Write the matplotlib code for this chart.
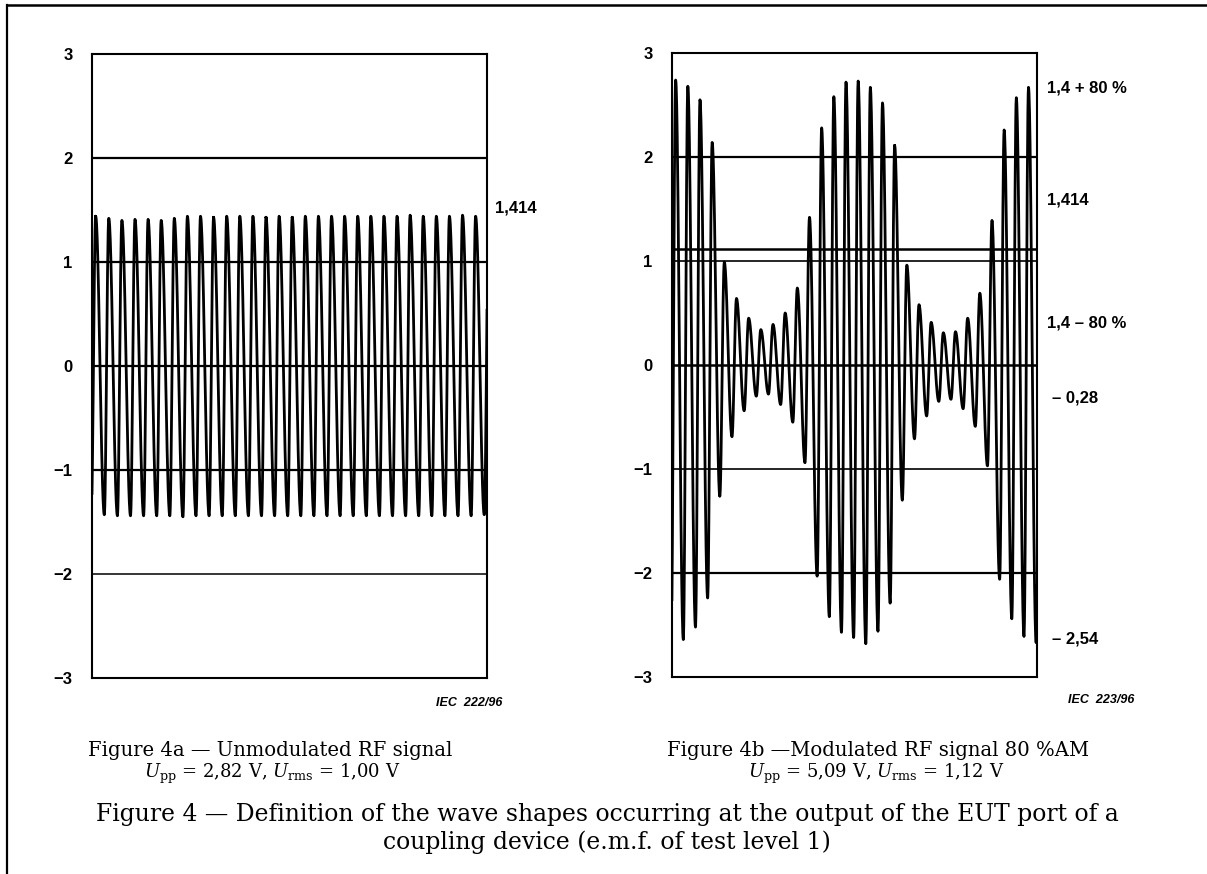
import numpy as np
import matplotlib
matplotlib.use("Agg")
import matplotlib.pyplot as plt
from matplotlib.lines import Line2D

plt.rcParams['mathtext.fontset'] = 'custom'
plt.rcParams['mathtext.rm'] = 'DejaVu Serif'
plt.rcParams['mathtext.it'] = 'DejaVu Serif:italic'

# peak / trough voltage of every carrier cycle
peaks_a = [1.44, 1.42, 1.40, 1.41, 1.41, 1.40, 1.42, 1.44, 1.44, 1.43,
           1.44, 1.44, 1.44, 1.43, 1.44, 1.43, 1.44, 1.44, 1.44, 1.44,
           1.44, 1.44, 1.44, 1.44, 1.45, 1.44, 1.44, 1.44, 1.45, 1.44]
troughs_a = [-1.43, -1.44, -1.44, -1.44, -1.44, -1.44, -1.45, -1.44, -1.44, -1.44,
             -1.44, -1.44, -1.44, -1.44, -1.44, -1.44, -1.44, -1.44, -1.44, -1.44,
             -1.44, -1.44, -1.44, -1.44, -1.44, -1.44, -1.44, -1.44, -1.44, -1.43]

peaks_b = [2.74, 2.68, 2.55, 2.14, 0.99, 0.64, 0.45, 0.34, 0.39, 0.50,
           0.74, 1.42, 2.28, 2.58, 2.72, 2.73, 2.67, 2.52, 2.11, 0.96,
           0.58, 0.41, 0.31, 0.32, 0.45, 0.69, 1.39, 2.26, 2.57, 2.67]
troughs_b = [-2.64, -2.52, -2.24, -1.26, -0.69, -0.44, -0.30, -0.28, -0.38, -0.55,
             -0.94, -2.03, -2.42, -2.57, -2.62, -2.68, -2.56, -2.29, -1.30, -0.71,
             -0.49, -0.35, -0.33, -0.42, -0.59, -0.97, -2.06, -2.44, -2.61, -2.67]

yticks = [-3, -2, -1, 0, 1, 2, 3]
ytick_labels = ['\u22123', '\u22122', '\u22121', '0', '1', '2', '3']


def wave(peaks, troughs, x0, skew, n=30):
    ex = [x0 + skew - 1]
    ey = [troughs[0]]
    for k in range(len(peaks)):
        ex += [x0 + k, x0 + k + skew]
        ey += [peaks[k], troughs[k]]
    ex.append(x0 + len(peaks))
    ey.append(peaks[-1])
    xs, ys = [], []
    t = np.linspace(0, 1, n)
    for i in range(len(ex) - 1):
        xs.append(ex[i] + (ex[i + 1] - ex[i]) * t)
        ys.append(ey[i] + (ey[i + 1] - ey[i]) * (1 - np.cos(np.pi * t)) / 2)
    return np.concatenate(xs), np.concatenate(ys)


W, H = 1207, 874
fig = plt.figure(figsize=(W / 100, H / 100), dpi=100)

# page frame (top and left edges only)
fig.add_artist(Line2D([7 / W, 7 / W], [0, 1 - 5 / H], color='black', lw=1.6))
fig.add_artist(Line2D([7 / W, 1], [1 - 5 / H, 1 - 5 / H], color='black', lw=1.8))


def setup(ax):
    ax.set_ylim(-3, 3)
    ax.set_yticks(yticks)
    ax.set_yticklabels(ytick_labels, fontfamily='Liberation Sans',
                       fontweight='bold', fontsize=12)
    ax.set_xticks([])
    ax.tick_params(axis='y', length=0, pad=14)
    for s in ax.spines.values():
        s.set_linewidth(1.5)


# Figure 4a
ax1 = fig.add_axes([92 / W, 1 - 678 / H, 395 / W, 624 / H])
setup(ax1)
ax1.set_xlim(0, 30.15)
for yv, lw in [(2, 1.6), (1, 1.6), (0, 1.6), (-1, 1.6), (-2, 1.1)]:
    ax1.axhline(yv, color='black', lw=lw)
xa, ya = wave(peaks_a, troughs_a, 0.28, 0.66)
ax1.plot(xa, ya, color='black', lw=2.0, solid_joinstyle='round')
ax1.text(1.02, 1.52, '1,414', transform=ax1.get_yaxis_transform(),
         fontfamily='Liberation Sans', fontweight='bold', fontsize=12,
         ha='left', va='center')
ax1.text(1.038, -3.24, 'IEC  222/96', transform=ax1.get_yaxis_transform(),
         fontfamily='Liberation Sans', fontweight='bold', style='italic',
         fontsize=9, ha='right', va='center')

# Figure 4b
ax2 = fig.add_axes([672 / W, 1 - 677 / H, 365 / W, 624 / H])
setup(ax2)
ax2.set_xlim(0, 30.0)
for yv, lw in [(2, 1.6), (1.12, 1.8), (1, 1.2), (0, 1.8), (-1, 1.2), (-2, 1.6)]:
    ax2.axhline(yv, color='black', lw=lw)
xb, yb = wave(peaks_b, troughs_b, 0.3, 0.63)
ax2.plot(xb, yb, color='black', lw=2.0, solid_joinstyle='round')
side_labels = [(2.66, '1,4 + 80 %', 1.027), (1.59, '1,414', 1.027),
               (0.40, '1,4 \u2013 80 %', 1.027), (-0.32, '\u2013 0,28', 1.04),
               (-2.63, '\u2013 2,54', 1.04)]
for yv, txt, xf in side_labels:
    ax2.text(xf, yv, txt, transform=ax2.get_yaxis_transform(),
             fontfamily='Liberation Sans', fontweight='bold', fontsize=12,
             ha='left', va='center')
ax2.text(1.268, -3.22, 'IEC  223/96', transform=ax2.get_yaxis_transform(),
         fontfamily='Liberation Sans', fontweight='bold', style='italic',
         fontsize=9, ha='right', va='center')

# captions, sized to the widths they take in the scan
renderer = fig.canvas.get_renderer()


def caption(xc, yc, s, width=None, size=None):
    t = fig.text(xc / W, 1 - yc / H, s, fontfamily='DejaVu Serif', fontsize=14,
                 ha='center', va='center')
    if size is None:
        w = t.get_window_extent(renderer).width
        size = 14 * width / w
    t.set_fontsize(size)
    return size


sub_size = caption(270, 750, 'Figure 4a \u2014 Unmodulated RF signal', width=365)
caption(272, 774, r'$U_{\mathrm{pp}}$ = 2,82 V, $U_{\mathrm{rms}}$ = 1,00 V',
        size=sub_size * 0.92)
caption(878, 750, 'Figure 4b \u2014Modulated RF signal 80 %AM', size=sub_size)
caption(876, 774, r'$U_{\mathrm{pp}}$ = 5,09 V, $U_{\mathrm{rms}}$ = 1,12 V',
        size=sub_size * 0.92)
main_size = caption(607, 815, 'Figure 4 \u2014 Definition of the wave shapes occurring '
                    'at the output of the EUT port of a', width=1030)
caption(607, 842, 'coupling device (e.m.f. of test level 1)', size=main_size)

fig.savefig('out.png', dpi=100)
